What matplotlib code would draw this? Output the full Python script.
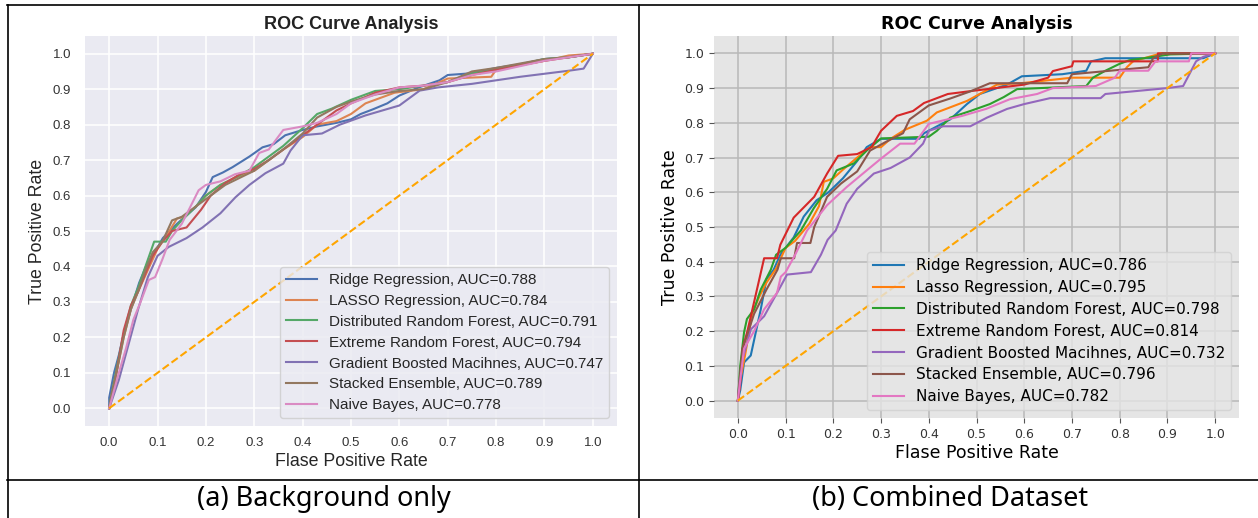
import matplotlib
matplotlib.use("Agg")
import matplotlib.pyplot as plt
from matplotlib.lines import Line2D

# ---------------- data: (a) background only ----------------
bg_labels = ["Ridge Regression, AUC=0.788", "LASSO Regression, AUC=0.784",
             "Distributed Random Forest, AUC=0.791", "Extreme Random Forest, AUC=0.794",
             "Gradient Boosted Macihnes, AUC=0.747", "Stacked Ensemble, AUC=0.789",
             "Naive Bayes, AUC=0.778"]

bg_ridge_fpr = [0, 0, 0.01, 0.02, 0.03, 0.045, 0.062, 0.076, 0.09, 0.111, 0.14, 0.179, 0.2, 0.214, 0.235, 0.255,
                0.29, 0.317, 0.34, 0.364, 0.4, 0.43, 0.47, 0.5, 0.52, 0.545, 0.575, 0.6, 0.64, 0.683, 0.7, 0.75,
                0.8, 0.85, 0.9, 0.95, 1.0]
bg_ridge_tpr = [0, 0.03, 0.1, 0.15, 0.21, 0.28, 0.354, 0.40, 0.43, 0.48, 0.52, 0.567, 0.61, 0.652, 0.665, 0.68,
                0.71, 0.736, 0.745, 0.77, 0.785, 0.795, 0.805, 0.815, 0.83, 0.843, 0.86, 0.882, 0.905, 0.925, 0.94,
                0.945, 0.96, 0.97, 0.985, 0.99, 1.0]

bg_lasso_fpr = [0, 0.005, 0.015, 0.03, 0.045, 0.06, 0.08, 0.1, 0.12, 0.14, 0.155, 0.18, 0.2, 0.23, 0.26, 0.3,
                0.33, 0.36, 0.4, 0.43, 0.47, 0.5, 0.53, 0.59, 0.65, 0.7, 0.79, 0.8, 0.9, 0.95, 1.0]
bg_lasso_tpr = [0, 0.03, 0.1, 0.2, 0.28, 0.33, 0.39, 0.45, 0.49, 0.535, 0.54, 0.57, 0.6, 0.63, 0.65, 0.67,
                0.7, 0.73, 0.765, 0.8, 0.81, 0.83, 0.86, 0.89, 0.9, 0.93, 0.935, 0.955, 0.98, 0.995, 1.0]

bg_drf_fpr = [0, 0.005, 0.015, 0.03, 0.045, 0.06, 0.075, 0.093, 0.117, 0.13, 0.15, 0.18, 0.2, 0.23, 0.26, 0.3,
              0.33, 0.36, 0.4, 0.43, 0.46, 0.5, 0.55, 0.6, 0.65, 0.7, 0.75, 0.8, 0.9, 0.95, 1.0]
bg_drf_tpr = [0, 0.04, 0.11, 0.21, 0.29, 0.34, 0.4, 0.47, 0.47, 0.5, 0.53, 0.57, 0.6, 0.63, 0.65, 0.68,
              0.71, 0.74, 0.79, 0.83, 0.845, 0.87, 0.895, 0.9, 0.91, 0.92, 0.945, 0.955, 0.985, 0.99, 1.0]

bg_erf_fpr = [0, 0.005, 0.015, 0.03, 0.045, 0.06, 0.075, 0.09, 0.11, 0.13, 0.16, 0.19, 0.21, 0.24, 0.27, 0.3,
              0.33, 0.36, 0.4, 0.43, 0.47, 0.5, 0.55, 0.6, 0.65, 0.7, 0.75, 0.8, 0.9, 0.95, 1.0]
bg_erf_tpr = [0, 0.03, 0.1, 0.22, 0.29, 0.33, 0.38, 0.43, 0.47, 0.5, 0.51, 0.56, 0.6, 0.635, 0.66, 0.675,
              0.7, 0.73, 0.77, 0.8, 0.84, 0.86, 0.89, 0.905, 0.91, 0.92, 0.94, 0.955, 0.98, 0.99, 1.0]

bg_gbm_fpr = [0, 0.01, 0.02, 0.04, 0.06, 0.08, 0.1, 0.123, 0.16, 0.193, 0.23, 0.261, 0.29, 0.323, 0.36, 0.375,
              0.4, 0.44, 0.477, 0.53, 0.6, 0.642, 0.68, 0.75, 0.85, 0.95, 0.981, 1.0]
bg_gbm_tpr = [0, 0.04, 0.08, 0.18, 0.28, 0.37, 0.43, 0.455, 0.48, 0.51, 0.55, 0.595, 0.63, 0.663, 0.69, 0.727,
              0.77, 0.775, 0.80, 0.826, 0.854, 0.896, 0.905, 0.915, 0.935, 0.952, 0.958, 1.0]

bg_se_fpr = [0, 0.005, 0.015, 0.03, 0.045, 0.06, 0.075, 0.09, 0.11, 0.13, 0.15, 0.18, 0.21, 0.24, 0.27, 0.3,
             0.33, 0.36, 0.4, 0.43, 0.47, 0.5, 0.55, 0.6, 0.65, 0.7, 0.75, 0.8, 0.9, 0.95, 1.0]
bg_se_tpr = [0, 0.04, 0.1, 0.2, 0.28, 0.33, 0.39, 0.44, 0.47, 0.53, 0.54, 0.57, 0.6, 0.63, 0.65, 0.67,
             0.7, 0.73, 0.775, 0.82, 0.85, 0.865, 0.885, 0.895, 0.9, 0.92, 0.95, 0.96, 0.985, 0.99, 1.0]

bg_nb_fpr = [0, 0.01, 0.02, 0.035, 0.05, 0.065, 0.082, 0.095, 0.11, 0.125, 0.15, 0.185, 0.2, 0.23, 0.26, 0.29,
             0.31, 0.33, 0.36, 0.4, 0.43, 0.47, 0.5, 0.55, 0.6, 0.65, 0.7, 0.75, 0.8, 0.9, 0.95, 1.0]
bg_nb_tpr = [0, 0.05, 0.1, 0.17, 0.25, 0.3, 0.362, 0.37, 0.42, 0.475, 0.52, 0.615, 0.63, 0.64, 0.66, 0.67,
             0.72, 0.73, 0.785, 0.795, 0.805, 0.83, 0.86, 0.885, 0.905, 0.91, 0.92, 0.94, 0.95, 0.98, 0.99, 1.0]

# ---------------- data: (b) combined dataset ----------------
cb_labels = ["Ridge Regression, AUC=0.786", "Lasso Regression, AUC=0.795",
             "Distributed Random Forest, AUC=0.798", "Extreme Random Forest, AUC=0.814",
             "Gradient Boosted Macihnes, AUC=0.732", "Stacked Ensemble, AUC=0.796",
             "Naive Bayes, AUC=0.782"]

cb_ridge_fpr = [0, 0.005, 0.013, 0.027, 0.048, 0.06, 0.075, 0.089, 0.117, 0.138, 0.165, 0.19, 0.22, 0.25, 0.27,
                0.3, 0.38, 0.39, 0.445, 0.48, 0.507, 0.564, 0.595, 0.68, 0.73, 0.74, 0.77, 0.975, 1.0]
cb_ridge_tpr = [0, 0.03, 0.11, 0.13, 0.263, 0.35, 0.377, 0.42, 0.47, 0.53, 0.577, 0.6, 0.64, 0.69, 0.73,
                0.754, 0.754, 0.77, 0.81, 0.854, 0.883, 0.91, 0.934, 0.94, 0.95, 0.977, 0.986, 0.986, 1.0]

cb_lasso_fpr = [0, 0.005, 0.015, 0.03, 0.045, 0.06, 0.08, 0.1, 0.12, 0.15, 0.17, 0.18, 0.2, 0.22, 0.25, 0.277,
                0.3, 0.32, 0.35, 0.396, 0.417, 0.48, 0.543, 0.6, 0.7, 0.8, 0.815, 0.828, 0.887, 1.0]
cb_lasso_tpr = [0, 0.06, 0.13, 0.25, 0.3, 0.34, 0.38, 0.44, 0.46, 0.51, 0.56, 0.63, 0.64, 0.665, 0.7, 0.73,
                0.73, 0.754, 0.78, 0.806, 0.83, 0.863, 0.91, 0.915, 0.93, 0.93, 0.96, 0.977, 1.0, 1.0]

cb_drf_fpr = [0, 0.005, 0.013, 0.019, 0.034, 0.048, 0.069, 0.08, 0.1, 0.132, 0.159, 0.187, 0.207, 0.243, 0.27,
              0.3, 0.4, 0.417, 0.445, 0.487, 0.528, 0.557, 0.585, 0.73, 0.744, 0.77, 0.80, 0.82, 0.906, 1.0]
cb_drf_tpr = [0, 0.1, 0.197, 0.235, 0.263, 0.32, 0.377, 0.42, 0.44, 0.49, 0.554, 0.61, 0.663, 0.683, 0.72,
              0.755, 0.76, 0.777, 0.815, 0.834, 0.854, 0.874, 0.897, 0.906, 0.93, 0.95, 0.97, 0.98, 0.997, 1.0]

cb_erf_fpr = [0, 0.005, 0.01, 0.02, 0.03, 0.04, 0.055, 0.082, 0.089, 0.117, 0.16, 0.187, 0.21, 0.25, 0.28,
              0.3, 0.333, 0.367, 0.39, 0.44, 0.48, 0.6, 0.65, 0.66, 0.7, 0.703, 0.88, 0.88, 1.0]
cb_erf_tpr = [0, 0.05, 0.15, 0.2, 0.26, 0.32, 0.41, 0.41, 0.449, 0.527, 0.587, 0.654, 0.705, 0.71, 0.73,
              0.777, 0.82, 0.834, 0.857, 0.883, 0.89, 0.91, 0.93, 0.949, 0.963, 0.977, 0.977, 1.0, 1.0]

cb_gbm_fpr = [0, 0.003, 0.008, 0.027, 0.055, 0.09, 0.103, 0.153, 0.174, 0.188, 0.205, 0.228, 0.25, 0.285, 0.32,
              0.36, 0.388, 0.40, 0.43, 0.487, 0.522, 0.564, 0.6, 0.654, 0.76, 0.77, 0.9, 0.933, 0.946, 0.96,
              0.975, 1.0]
cb_gbm_tpr = [0, 0.05, 0.11, 0.205, 0.243, 0.33, 0.363, 0.37, 0.42, 0.463, 0.49, 0.567, 0.61, 0.654, 0.67,
              0.70, 0.74, 0.777, 0.79, 0.79, 0.815, 0.84, 0.854, 0.871, 0.871, 0.883, 0.9, 0.906, 0.94, 0.977,
              0.99, 1.0]

cb_se_fpr = [0, 0.005, 0.01, 0.034, 0.06, 0.083, 0.09, 0.118, 0.124, 0.152, 0.16, 0.187, 0.216, 0.25, 0.277,
             0.31, 0.346, 0.36, 0.40, 0.445, 0.486, 0.528, 0.69, 0.70, 0.86, 0.87, 0.89, 1.0]
cb_se_tpr = [0, 0.08, 0.15, 0.25, 0.32, 0.377, 0.41, 0.41, 0.454, 0.454, 0.50, 0.587, 0.625, 0.66, 0.72,
             0.745, 0.77, 0.81, 0.85, 0.87, 0.89, 0.914, 0.914, 0.94, 0.96, 0.986, 1.0, 1.0]

cb_nb_fpr = [0, 0.005, 0.013, 0.034, 0.055, 0.082, 0.09, 0.1, 0.12, 0.145, 0.187, 0.228, 0.27, 0.3, 0.34,
             0.37, 0.40, 0.47, 0.52, 0.57, 0.627, 0.66, 0.75, 0.79, 0.8, 0.86, 0.875, 0.945, 0.95, 1.0]
cb_nb_tpr = [0, 0.06, 0.15, 0.2, 0.263, 0.31, 0.357, 0.37, 0.42, 0.49, 0.563, 0.615, 0.663, 0.697, 0.74,
             0.74, 0.797, 0.82, 0.84, 0.868, 0.883, 0.9, 0.906, 0.93, 0.95, 0.95, 0.977, 0.977, 1.0, 1.0]

ticks = [0.0, 0.1, 0.2, 0.3, 0.4, 0.5, 0.6, 0.7, 0.8, 0.9, 1.0]

bg_curves = [(bg_ridge_fpr, bg_ridge_tpr), (bg_lasso_fpr, bg_lasso_tpr), (bg_drf_fpr, bg_drf_tpr),
             (bg_erf_fpr, bg_erf_tpr), (bg_gbm_fpr, bg_gbm_tpr), (bg_se_fpr, bg_se_tpr), (bg_nb_fpr, bg_nb_tpr)]
cb_curves = [(cb_ridge_fpr, cb_ridge_tpr), (cb_lasso_fpr, cb_lasso_tpr), (cb_drf_fpr, cb_drf_tpr),
             (cb_erf_fpr, cb_erf_tpr), (cb_gbm_fpr, cb_gbm_tpr), (cb_se_fpr, cb_se_tpr), (cb_nb_fpr, cb_nb_tpr)]

deep = ["#4C72B0", "#DD8452", "#55A868", "#C44E52", "#8172B3", "#937860", "#DA8BC3"]
tab = ["#1f77b4", "#ff7f0e", "#2ca02c", "#d62728", "#9467bd", "#8c564b", "#e377c2"]

W, H = 1258, 518
fig = plt.figure(figsize=(W / 100, H / 100), dpi=100)
fig.patch.set_facecolor("white")


def box(l, t, r, b):
    return [l / W, 1 - b / H, (r - l) / W, (b - t) / H]


# ---------------- panel (a): seaborn darkgrid look ----------------
fa = "Liberation Sans"
ax1 = fig.add_axes(box(85, 36, 617, 426))
ax1.set_facecolor("#EAEAF2")
ax1.set_axisbelow(True)
ax1.grid(color="white", lw=1.1)
for s in ax1.spines.values():
    s.set_visible(False)
for (x, y), c, lab in zip(bg_curves, deep, bg_labels):
    ax1.plot(x, y, color=c, lw=1.5, label=lab)
ax1.plot([0, 1], [0, 1], color="orange", ls="--", lw=1.5)
ax1.set_xticks(ticks)
ax1.set_yticks(ticks)
ax1.tick_params(length=0, labelsize=9.5, labelcolor="#333333")
ax1.tick_params(axis="x", pad=8)
ax1.tick_params(axis="y", pad=10)
for t in ax1.get_xticklabels() + ax1.get_yticklabels():
    t.set_family(fa)
ax1.set_title("ROC Curve Analysis", fontsize=13, fontweight="bold", family=fa, pad=5, color="#222222")
ax1.set_xlabel("Flase Positive Rate", fontsize=12.8, family=fa, labelpad=3, color="#262626")
ax1.set_ylabel("True Positive Rate", fontsize=12.8, family=fa, labelpad=5, color="#262626")
leg1 = ax1.legend(loc="lower right", prop={"family": fa, "size": 11}, facecolor="#EAEAF2",
                  edgecolor="#CCCCCC", framealpha=0.8, labelspacing=0.45, handlelength=2.0)
for t in leg1.get_texts():
    t.set_color("#262626")

# ---------------- panel (b): grey background, grey grid ----------------
fb = "DejaVu Sans"
ax2 = fig.add_axes(box(714, 36, 1239, 418))
ax2.set_facecolor("#E5E5E5")
ax2.set_axisbelow(True)
ax2.grid(color="#B8B8B8", lw=1.1)
for s in ax2.spines.values():
    s.set_visible(False)
for (x, y), c, lab in zip(cb_curves, tab, cb_labels):
    ax2.plot(x, y, color=c, lw=1.5, label=lab)
ax2.plot([0, 1], [0, 1], color="orange", ls="--", lw=1.5)
ax2.set_xticks(ticks)
ax2.set_yticks(ticks)
ax2.tick_params(length=3.5, width=0.8, color="#555555", labelsize=9, labelcolor="#333333")
ax2.set_title("ROC Curve Analysis", fontsize=12.5, fontweight="bold", family=fb, pad=5)
ax2.set_xlabel("Flase Positive Rate", fontsize=12.5, family=fb, labelpad=2)
ax2.set_ylabel("True Positive Rate", fontsize=12.5, family=fb, labelpad=4)
leg2 = ax2.legend(loc="lower right", prop={"family": fb, "size": 11}, facecolor="#E5E5E5",
                  edgecolor="#D0D0D0", framealpha=0.8, labelspacing=0.45, handlelength=2.0)

# ---------------- table frame and captions ----------------
lines = [((7, 1258), (5, 5)), ((7, 1258), (480, 480)), ((7.5, 7.5), (5, 518)), ((639, 639), (5, 518))]
for xs, ys in lines:
    fig.add_artist(Line2D([x / W for x in xs], [1 - y / H for y in ys], color="black", lw=1.2))

fig.text(324 / W, 1 - 499 / H, "(a) Background only", ha="center", va="center", fontsize=19.5,
         family="Noto Sans")
fig.text(950 / W, 1 - 499 / H, "(b) Combined Dataset", ha="center", va="center", fontsize=19.5,
         family="Noto Sans")

fig.savefig("out.png", dpi=100)
